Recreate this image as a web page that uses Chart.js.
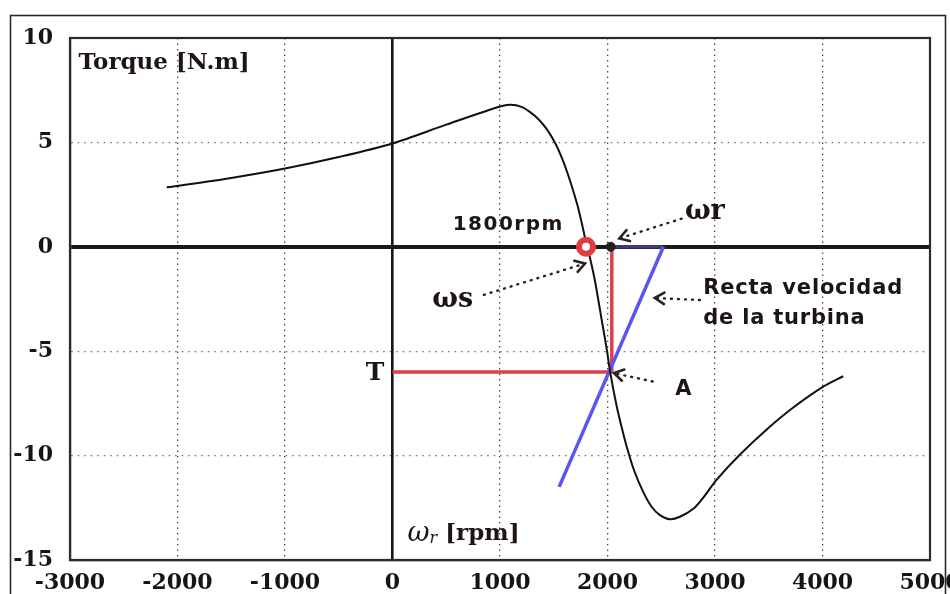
<!DOCTYPE html>
<html>
<head>
<meta charset="utf-8">
<script src="https://cdn.jsdelivr.net/npm/chart.js@4.4.1/dist/chart.umd.min.js"></script>
<style>
  html,body{margin:0;padding:0;background:#fff;}
  #wrap{width:950px;height:594px;position:relative;}
</style>
</head>
<body>
<div id="wrap"><canvas id="c" width="950" height="594"></canvas></div>
<script>
// ---- data ----
const speedRpm = [-2100, -1500, -1000, -500, 0, 500, 1000, 1100, 1200, 1280, 1360, 1440, 1520, 1580, 1630, 1680, 1720, 1760, 1790, 1840, 1884, 1946, 1993, 2025, 2086, 2132, 2180, 2250, 2333, 2410, 2488, 2581, 2674, 2798, 2900, 3016, 3233, 3481, 3728, 4007, 4193];
const torqueNm = [2.85, 3.3, 3.75, 4.3, 4.95, 5.85, 6.72, 6.8, 6.7, 6.45, 6.1, 5.6, 4.9, 4.2, 3.5, 2.7, 2.0, 1.15, 0.45, -0.6, -1.65, -3.5, -4.9, -6.0, -7.65, -8.65, -9.6, -10.75, -11.75, -12.45, -12.85, -13.05, -12.93, -12.55, -11.95, -11.15, -9.95, -8.75, -7.7, -6.7, -6.2];

const turbineX = [2520, 1550];
const turbineY = [0, -11.5];

const axisSegX = [2030, 2520];
const axisSegY = [0, 0];

const torqueLineX = [0, 2040];
const torqueLineY = [-6, -6];
const speedLineX = [2040, 2040];
const speedLineY = [0, -6];

const syncX = [1800];  const syncY = [0];
const rotorX = [2030]; const rotorY = [0];

const xTicks = [-3000, -2000, -1000, 0, 1000, 2000, 3000, 4000, 5000];
const yTicks = [-15, -10, -5, 0, 5, 10];

const pts = (xs, ys) => xs.map((x, i) => ({x: x, y: ys[i]}));

// ---- annotations (data coordinates) ----
const labels = [
  {parts:[['Torque [N.m]','bold 23px "DejaVu Serif"']], x:-2920, y:8.8},
  {parts:[['1800rpm','bold 20px "DejaVu Sans"']], x:560, y:1.05, spacing:1.5},
  {parts:[['ωr','bold 27px "DejaVu Serif"']], x:2720, y:1.65},
  {parts:[['ωs','bold 27px "DejaVu Serif"']], x:370, y:-2.55},
  {parts:[['Recta velocidad','bold 21px "DejaVu Sans"']], x:2890, y:-2.0, spacing:0.8},
  {parts:[['de la turbina','bold 21px "DejaVu Sans"']], x:2890, y:-3.45, spacing:0.8},
  {parts:[['T','bold 25px "DejaVu Serif"']], x:-250, y:-6.05},
  {parts:[['A','bold 21px "DejaVu Sans"']], x:2630, y:-6.85},
  {parts:[['ω','italic 27px "DejaVu Serif"'],['r','italic 16px "DejaVu Serif"',5],[' [rpm]','bold 23px "DejaVu Serif"']], x:140, y:-13.75}
];
const arrows = [
  {from:[2690, 1.35], to:[2110, 0.4]},
  {from:[850, -2.3], to:[1790, -0.8]},
  {from:[2860, -2.55], to:[2440, -2.45]},
  {from:[2420, -6.45], to:[2060, -6.05]}
];

const decor = {
  id: 'decor',
  beforeDraw(chart) {
    const ctx = chart.ctx;
    ctx.save();
    ctx.fillStyle = '#fff';
    ctx.fillRect(0, 0, chart.width, chart.height);
    ctx.strokeStyle = '#2a2a2a';
    ctx.lineWidth = 1.6;
    ctx.strokeRect(10.5, 15.5, 935, 620);
    ctx.restore();
  },
  beforeDatasetsDraw(chart) {
    const ctx = chart.ctx, a = chart.chartArea;
    ctx.save();
    ctx.strokeStyle = '#2b2b2b';
    ctx.lineWidth = 2.2;
    ctx.strokeRect(a.left, a.top, a.right - a.left, a.bottom - a.top);
    ctx.restore();
  },
  afterDatasetsDraw(chart) {
    const ctx = chart.ctx, xs = chart.scales.x, ys = chart.scales.y;
    ctx.save();
    ctx.fillStyle = '#1e1418';
    ctx.textBaseline = 'middle';
    ctx.textAlign = 'left';
    labels.forEach(l => {
      let px = xs.getPixelForValue(l.x);
      const py = ys.getPixelForValue(l.y);
      ctx.letterSpacing = (l.spacing || 0) + 'px';
      l.parts.forEach(p => {
        ctx.font = p[1];
        ctx.fillText(p[0], px, py + (p[2] || 0));
        px += ctx.measureText(p[0]).width;
      });
    });
    ctx.letterSpacing = '0px';
    ctx.strokeStyle = '#2a2226';
    ctx.lineCap = 'round';
    arrows.forEach(ar => {
      const x1 = xs.getPixelForValue(ar.from[0]), y1 = ys.getPixelForValue(ar.from[1]);
      const x2 = xs.getPixelForValue(ar.to[0]), y2 = ys.getPixelForValue(ar.to[1]);
      ctx.lineWidth = 2.4;
      ctx.setLineDash([1, 6]);
      ctx.beginPath(); ctx.moveTo(x1, y1); ctx.lineTo(x2, y2); ctx.stroke();
      ctx.setLineDash([]);
      const ang = Math.atan2(y2 - y1, x2 - x1);
      const L = 11;
      ctx.lineWidth = 2.6;
      ctx.beginPath();
      ctx.moveTo(x2 - L * Math.cos(ang - 0.55), y2 - L * Math.sin(ang - 0.55));
      ctx.lineTo(x2, y2);
      ctx.lineTo(x2 - L * Math.cos(ang + 0.55), y2 - L * Math.sin(ang + 0.55));
      ctx.stroke();
    });
    ctx.restore();
  }
};

const tickFont = {family: '"DejaVu Serif"', weight: 'bold', size: 22};

new Chart(document.getElementById('c'), {
  type: 'scatter',
  data: {
    datasets: [
      {data: pts(torqueLineX, torqueLineY), showLine: true, borderColor: '#d9414b', borderWidth: 3.5, pointRadius: 0, order: 3},
      {data: pts(speedLineX, speedLineY), showLine: true, borderColor: '#d9414b', borderWidth: 3.5, pointRadius: 0, order: 3},
      {data: pts(turbineX, turbineY), showLine: true, borderColor: '#5a55ee', borderWidth: 3.5, pointRadius: 0, order: 2},
      {data: pts(axisSegX, axisSegY), showLine: true, borderColor: '#3b3a7a', borderWidth: 3.5, pointRadius: 0, order: 2},
      {data: pts(speedRpm, torqueNm), showLine: true, borderColor: '#111', borderWidth: 2, pointRadius: 0, tension: 0.3, order: 1},
      {data: pts(syncX, syncY), pointRadius: 7, pointBorderWidth: 6, pointBackgroundColor: '#fff', pointBorderColor: '#e23c40', order: 0},
      {data: pts(rotorX, rotorY), pointRadius: 4.5, pointBackgroundColor: '#222', pointBorderColor: '#222', order: 0}
    ]
  },
  options: {
    responsive: false,
    animation: false,
    events: [],
    layout: {padding: {top: 38, right: 20, left: 0, bottom: 0}},
    plugins: {legend: {display: false}, tooltip: {enabled: false}},
    scales: {
      x: {
        type: 'linear', min: -3000, max: 5000,
        afterBuildTicks: s => { s.ticks = xTicks.map(v => ({value: v})); },
        afterFit: s => { s.height = 34; s.paddingLeft = 0; s.paddingRight = 0; },
        ticks: {font: tickFont, color: '#151515', padding: 10, maxRotation: 0, autoSkip: false, callback: v => String(v)},
        grid: {
          drawTicks: false,
          color: c => c.tick && c.tick.value === 0 ? '#151515' : '#4a4a4a',
          lineWidth: c => c.tick && c.tick.value === 0 ? 2.6 : 1.3
        },
        border: {color: '#2b2b2b', width: 2.2, dash: c => c.tick && c.tick.value === 0 ? [] : [1.5, 4]}
      },
      y: {
        min: -15, max: 10,
        afterBuildTicks: s => { s.ticks = yTicks.map(v => ({value: v})); },
        afterFit: s => { s.width = 70; s.paddingTop = 0; s.paddingBottom = 0; },
        ticks: {font: tickFont, color: '#151515', padding: 17, callback: v => String(v)},
        grid: {
          drawTicks: false,
          color: c => c.tick && c.tick.value === 0 ? '#1a1a1a' : '#6a6a6a',
          lineWidth: c => c.tick && c.tick.value === 0 ? 4 : 1.2
        },
        border: {color: '#2b2b2b', width: 2.2, dash: c => c.tick && c.tick.value === 0 ? [] : [1.5, 5]}
      }
    }
  },
  plugins: [decor]
});
</script>
</body>
</html>
